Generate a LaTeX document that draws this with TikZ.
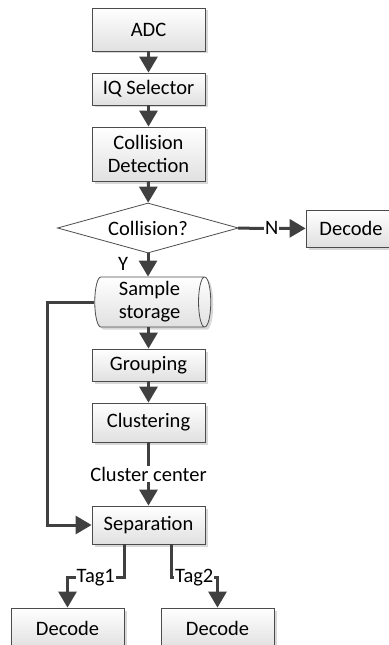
\documentclass[tikz,border=0pt]{standalone}
\usepackage{fontspec}
\setmainfont{Carlito}
\usetikzlibrary{arrows.meta,shapes.geometric,shadows}
\begin{document}
\begin{tikzpicture}[x=1bp,y=-1bp,
    font=\fontsize{20.5bp}{23bp}\selectfont,
    box/.style={draw=black!70,line width=0.8bp,top color=white,bottom color=black!12,
      drop shadow={shadow xshift=2.5bp,shadow yshift=-2.5bp,fill=black!30},
      minimum width=113bp,inner sep=0pt,align=center},
    arr/.style={draw=black!75,line width=3bp,-{Triangle[length=16bp,width=18bp]}},
    lbl/.style={fill=white,inner sep=1bp}]
  \useasboundingbox (0,0) rectangle (388,645);
  % main column
  \node[box,minimum height=43bp] (adc) at (148.5,29.5) {ADC};
  \node[box,minimum height=32bp] (iq) at (148.5,89) {IQ Selector};
  \node[box,minimum height=54bp] (cd) at (148.5,154) {Collision\\Detection};
  \node[draw=black!70,line width=0.8bp,diamond,aspect=3.6,inner sep=0pt,
    minimum width=181bp,minimum height=50bp] (col) at (148,228) {Collision?};
  \node[box,minimum width=90bp,minimum height=37bp] (dn) at (351,228.5) {Decode};
  \node[box,cylinder,aspect=0.3,shape border rotate=0,
    minimum width=50bp,minimum height=116bp] (stor) at (149.5,302) {Sample\\storage};
  \node[box,minimum height=32bp] (grp) at (148.5,365) {Grouping};
  \node[box,minimum height=39bp] (clu) at (148.5,422.5) {Clustering};
  \node[box,minimum height=38bp] (sep) at (148.5,525) {Separation};
  \node[box,minimum height=40bp] (d1) at (67.5,628) {Decode};
  \node[box,minimum height=40bp] (d2) at (217.5,628) {Decode};
  % connectors
  \draw[arr] (adc) -- (iq);
  \draw[arr] (iq) -- (cd);
  \draw[arr] (cd) -- (col);
  \draw[arr] (col) -- node[lbl]{N} (dn);
  \draw[arr] (col.south) -- node[pos=0.45,xshift=-25bp]{Y} (col.south |- stor.north);
  \draw[arr] (stor.south -| grp.north) -- (grp);
  \draw[arr] (grp) -- (clu);
  \draw[arr] (clu) -- node[lbl]{Cluster center} (sep);
  \draw[arr] (stor.west) -- ++(-47,0) |- (sep);
  \draw[arr] ([xshift=-24.5bp]sep.south) -- ++(0,33) -| node[lbl,pos=0.25]{Tag1} (d1);
  \draw[arr] ([xshift=22.5bp]sep.south) -- ++(0,33) -| node[lbl,pos=0.25]{Tag2} (d2);
\end{tikzpicture}
\end{document}
